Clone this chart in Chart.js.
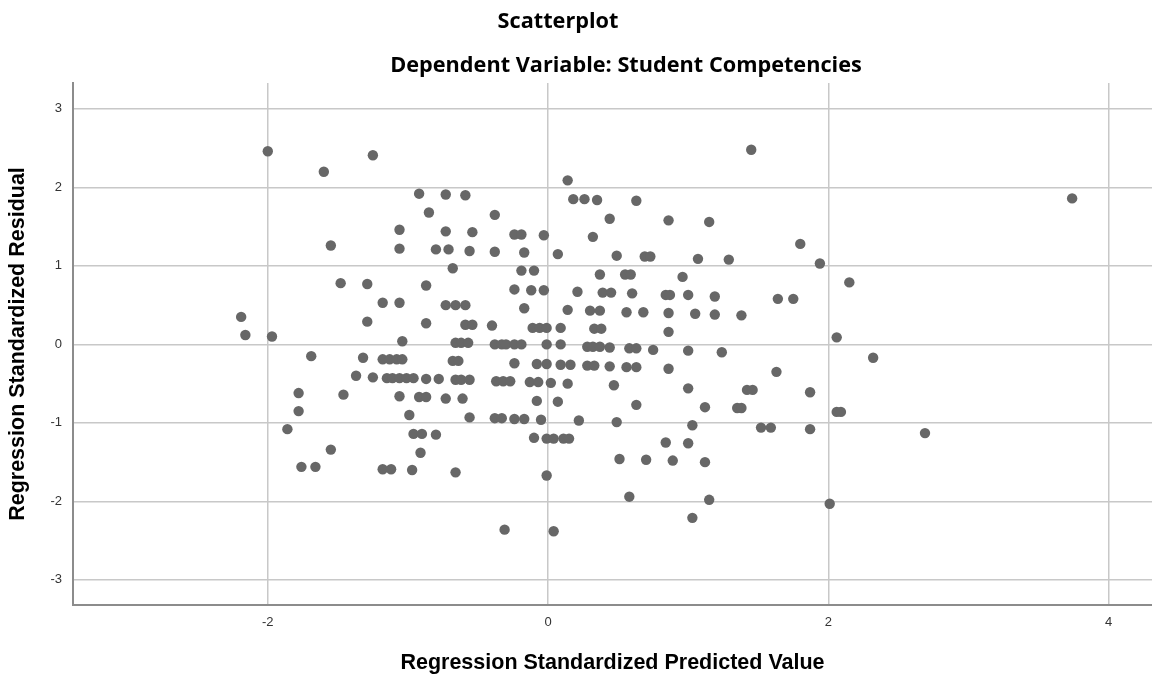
<!DOCTYPE html>
<html>
<head>
<meta charset="utf-8">
<script src="https://cdn.jsdelivr.net/npm/chart.js@4.4.1/dist/chart.umd.min.js"></script>
<style>
html,body{margin:0;padding:0;background:#ffffff;}
#wrap{width:1152px;height:677px;position:relative;}
</style>
</head>
<body>
<div id="wrap"><canvas id="c" width="1152" height="677"></canvas></div>
<script>
// Regression Standardized Predicted Value (x) for each case
const predictedValues = [
 -2.00,-1.25,-1.60,-0.92,-1.06,-1.55,-1.06,-1.48,-1.29,-1.18,-1.06,-2.19,-1.29,-2.16,-1.97,-1.04,
  0.14,-0.73,-0.59, 0.18, 0.26, 0.35,-0.85,-0.38,-0.73,-0.54,-0.24,-0.19,-0.03, 0.32,-0.80,-0.71,
 -0.56,-0.38,-0.17, 0.07,-0.68,-0.19,-0.10, 0.37,-0.87,-0.24,-0.12,-0.03, 0.21, 0.39,-0.73,-0.66,
 -0.59,-0.17, 0.14, 0.30, 0.37,-0.87,-0.59,-0.54,-0.40,-0.11,-0.06,-0.01, 0.09, 0.33, 0.38,-0.66,
 -0.62,-0.57,-0.38,-0.33,-0.30,-0.24,-0.19,-0.01, 0.09, 0.28, 0.32, 0.37, 0.44, 0.58, 0.63, 0.75,
  1.00, 1.24, 1.45, 0.63, 0.44, 0.86, 1.15, 0.49, 0.69, 0.73, 1.07, 1.29, 0.55, 0.59, 0.96, 0.45,
  0.60, 0.84, 0.87, 1.00, 1.19, 1.64, 0.56, 0.68, 0.86, 1.05, 1.19, 1.38, 0.86, 0.28, 0.33, 0.44,
  0.56, 0.63, 0.86, 1.63, 0.47, 1.00, 1.42, 1.46, 0.63, 1.12, 1.35, 1.38, 0.22, 0.49, 1.03, 1.52,
  1.59, 0.84, 1.00, 0.51, 0.70, 0.89, 1.12, 0.58, 1.15, 1.03, 3.74, 1.80, 1.94, 2.15, 1.75, 2.06,
  2.32, 1.87, 2.06, 2.09, 1.87, 2.69, 2.01,-1.69,-1.32,-1.18,-1.13,-1.08,-1.04,-1.37,-1.25,-1.15,
 -1.11,-1.06,-1.01,-0.96,-1.78,-1.46,-1.06,-0.92,-1.78,-0.99,-1.86,-0.96,-0.90,-0.91,-1.55,-1.76,
 -1.66,-1.18,-1.12,-0.97,-0.68,-0.64,-0.24,-0.08,-0.01, 0.09, 0.16,-0.87,-0.78,-0.66,-0.62,-0.56,
 -0.37,-0.32,-0.27,-0.13,-0.07, 0.02, 0.14,-0.87,-0.73,-0.61,-0.08, 0.07,-0.56,-0.38,-0.33,-0.24,
 -0.17,-0.05,-0.80,-0.10,-0.01, 0.04, 0.11, 0.15,-0.66,-0.01,-0.31, 0.04
];
// Regression Standardized Residual (y) for each case
const residualValues = [
  2.46, 2.41, 2.20, 1.92, 1.46, 1.26, 1.22, 0.78, 0.77, 0.53, 0.53, 0.35, 0.29, 0.12, 0.10, 0.04,
  2.09, 1.91, 1.90, 1.85, 1.85, 1.84, 1.68, 1.65, 1.44, 1.43, 1.40, 1.40, 1.39, 1.37, 1.21, 1.21,
  1.19, 1.18, 1.17, 1.15, 0.97, 0.94, 0.94, 0.89, 0.75, 0.70, 0.69, 0.69, 0.67, 0.66, 0.50, 0.50,
  0.50, 0.46, 0.44, 0.43, 0.43, 0.27, 0.25, 0.25, 0.24, 0.21, 0.21, 0.21, 0.21, 0.20, 0.20, 0.02,
  0.02, 0.02, 0.00, 0.00, 0.00, 0.00, 0.00, 0.00, 0.00,-0.03,-0.03,-0.03,-0.04,-0.05,-0.05,-0.07,
 -0.08,-0.10, 2.48, 1.83, 1.60, 1.58, 1.56, 1.13, 1.12, 1.12, 1.09, 1.08, 0.89, 0.89, 0.86, 0.66,
  0.65, 0.63, 0.63, 0.63, 0.61, 0.58, 0.41, 0.41, 0.40, 0.39, 0.38, 0.37, 0.16,-0.27,-0.27,-0.28,
 -0.29,-0.29,-0.31,-0.35,-0.52,-0.56,-0.58,-0.58,-0.77,-0.80,-0.81,-0.81,-0.97,-0.99,-1.03,-1.06,
 -1.06,-1.25,-1.26,-1.46,-1.47,-1.48,-1.50,-1.94,-1.98,-2.21, 1.86, 1.28, 1.03, 0.79, 0.58, 0.09,
 -0.17,-0.61,-0.86,-0.86,-1.08,-1.13,-2.03,-0.15,-0.17,-0.19,-0.19,-0.19,-0.19,-0.40,-0.42,-0.43,
 -0.43,-0.43,-0.43,-0.43,-0.62,-0.64,-0.66,-0.67,-0.85,-0.90,-1.08,-1.14,-1.14,-1.38,-1.34,-1.56,
 -1.56,-1.59,-1.59,-1.60,-0.21,-0.21,-0.24,-0.25,-0.25,-0.26,-0.26,-0.44,-0.44,-0.45,-0.45,-0.45,
 -0.47,-0.47,-0.47,-0.48,-0.48,-0.49,-0.50,-0.67,-0.69,-0.69,-0.72,-0.73,-0.93,-0.94,-0.94,-0.95,
 -0.95,-0.96,-1.15,-1.19,-1.20,-1.20,-1.20,-1.20,-1.63,-1.67,-2.36,-2.38
];
const xTickValues = [-2, 0, 2, 4];
const yTickValues = [-3, -2, -1, 0, 1, 2, 3];
const chartTitle = 'Scatterplot';
const chartSubtitle = 'Dependent Variable: Student Competencies';
const xAxisTitle = 'Regression Standardized Predicted Value';
const yAxisTitle = 'Regression Standardized Residual';

const points = predictedValues.map((x, i) => ({ x: x, y: residualValues[i] }));

const headerPlugin = {
  id: 'header',
  afterDraw(chart) {
    const ctx = chart.ctx;
    ctx.save();
    ctx.fillStyle = '#000000';
    ctx.textAlign = 'center';
    ctx.textBaseline = 'middle';
    ctx.font = 'bold 21.7px "Open Sans", "Noto Sans", sans-serif';
    ctx.fillText(chartTitle, 558, 22);
    ctx.fillText(chartSubtitle, 626, 66);
    ctx.restore();
  }
};

new Chart(document.getElementById('c'), {
  type: 'scatter',
  data: {
    datasets: [{
      label: 'Cases',
      data: points,
      pointRadius: 5.2,
      pointHoverRadius: 5.2,
      pointBackgroundColor: '#676767',
      pointBorderWidth: 0,
      borderWidth: 0
    }]
  },
  options: {
    responsive: false,
    animation: false,
    devicePixelRatio: 1,
    layout: { autoPadding: false, padding: { top: 83, right: 0, bottom: 0, left: 0 } },
    plugins: {
      legend: { display: false },
      tooltip: { enabled: false },
      title: { display: false }
    },
    scales: {
      x: {
        type: 'linear',
        min: -3.39,
        max: 4.31,
        afterBuildTicks(scale) { scale.ticks = xTickValues.map(v => ({ value: v })); },
        afterFit(scale) { scale.height = 72; scale.paddingLeft = 0; scale.paddingRight = 0; },
        grid: { color: '#c8c8c8', lineWidth: 1.5, drawTicks: false },
        border: { display: true, color: '#8c8c8c', width: 2 },
        ticks: {
          padding: 10,
          color: '#333333',
          font: { family: '"Liberation Sans", Arial, sans-serif', size: 13 },
          callback: v => String(v)
        },
        title: {
          display: true,
          text: xAxisTitle,
          color: '#000000',
          font: { family: '"Liberation Sans", Arial, sans-serif', size: 21.5, weight: 'bold' },
          padding: { top: 0, bottom: 1 }
        }
      },
      y: {
        type: 'linear',
        min: -3.32,
        max: 3.33,
        afterBuildTicks(scale) { scale.ticks = yTickValues.map(v => ({ value: v })); },
        afterFit(scale) { scale.width = 73; scale.paddingTop = 0; scale.paddingBottom = 0; },
        grid: { color: '#c8c8c8', lineWidth: 1.5, drawTicks: false },
        border: { display: true, color: '#8c8c8c', width: 2 },
        ticks: {
          padding: 11,
          color: '#333333',
          font: { family: '"Liberation Sans", Arial, sans-serif', size: 13 },
          callback: v => String(v)
        },
        title: {
          display: true,
          text: yAxisTitle,
          color: '#000000',
          font: { family: '"Liberation Sans", Arial, sans-serif', size: 21.5, weight: 'bold' },
          padding: { top: 5, bottom: 0 }
        }
      }
    }
  },
  plugins: [headerPlugin]
});
</script>
</body>
</html>
